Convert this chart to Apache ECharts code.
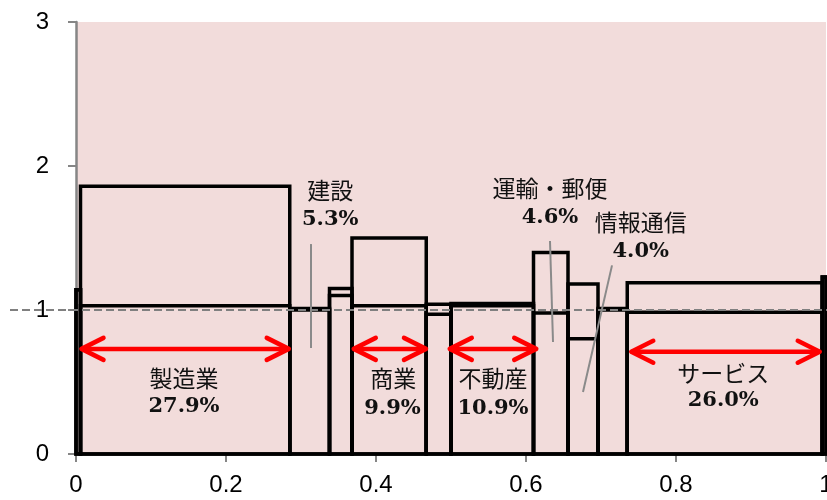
<!DOCTYPE html>
<html>
<head>
<meta charset="utf-8">
<script src="https://cdn.jsdelivr.net/npm/echarts@6/dist/echarts.min.js"></script>
<style>
html,body{margin:0;padding:0;background:#fff;}
#c{width:827px;height:500px;}
</style>
</head>
<body>
<div id="c"></div>
<script>
// ---- data ----
// sector widths (share of total, x axis 0..1)
const sectorShares = [0.006, 0.279, 0.053, 0.030, 0.099, 0.033, 0.110, 0.046, 0.040, 0.039, 0.260, 0.005];
// two height series per sector (outer / inner step)
const outerHeights = [1.14, 1.86, 1.01, 1.15, 1.50, 1.04, 1.045, 1.40, 1.18, 1.01, 1.19, 1.23];
const innerHeights = [1.14, 1.03, 1.00, 1.10, 1.03, 0.97, 1.03, 0.98, 0.80, 1.00, 0.985, 1.23];
// reference line
const refLevel = 1;
// annotation arrows: [from x, to x, y]
const arrowFrom = [0.006, 0.369, 0.497, 0.739];
const arrowTo   = [0.285, 0.468, 0.615, 0.993];
const arrowY    = [0.73, 0.73, 0.73, 0.71];
// labels
const labelNames = ['製造業', '商業', '不動産', 'サービス', '建設', '運輸・郵便', '情報通信'];
const labelPcts  = ['27.9%', '9.9%', '10.9%', '26.0%', '5.3%', '4.6%', '4.0%'];
const nameX = [0.144, 0.423, 0.556, 0.863, 0.339, 0.632, 0.753];
const nameY = [0.528, 0.528, 0.528, 0.563, 1.833, 1.847, 1.611];
const pctX  = [0.144, 0.422, 0.556, 0.863, 0.339, 0.632, 0.753];
const pctY  = [0.333, 0.319, 0.319, 0.368, 1.625, 1.639, 1.403];
// leader lines: [x1, y1, x2, y2]
const leaderLines = [
  [0.3133, 1.458, 0.3133, 0.736],
  [0.632, 1.479, 0.636, 0.778],
  [0.7147, 1.31, 0.676, 0.431]
];
const xTickLabels = ['0', '0.2', '0.4', '0.6', '0.8', '1'];
const yTickLabels = ['0', '1', '2', '3'];

// ---- build ----
const bounds = [0];
sectorShares.forEach(s => bounds.push(bounds[bounds.length - 1] + s));
const outerData = sectorShares.map((s, i) => [bounds[i], bounds[i + 1], outerHeights[i]]);
const innerData = sectorShares.map((s, i) => [bounds[i], bounds[i + 1], innerHeights[i]]);
const arrowData = arrowFrom.map((f, i) => [f, arrowTo[i], arrowY[i]]);

function rectItem(params, api) {
  const p0 = api.coord([api.value(0), api.value(2)]);
  const p1 = api.coord([api.value(1), 0]);
  return {
    type: 'rect',
    shape: { x: p0[0], y: p0[1], width: p1[0] - p0[0], height: p1[1] - p0[1] },
    style: { fill: 'none', stroke: '#000', lineWidth: 3.5 }
  };
}

const chart = echarts.init(document.getElementById('c'), null, { renderer: 'canvas' });
chart.setOption({
  animation: false,
  backgroundColor: '#fff',
  grid: { left: 76, right: 1, top: 22, bottom: 46, show: true, backgroundColor: '#f2dcdb', borderWidth: 0,
    containLabel: false, outerBoundsMode: 'none' },
  xAxis: {
    type: 'value', min: 0, max: 1, interval: 0.2,
    axisLine: { show: true, lineStyle: { color: '#868686', width: 2 } },
    axisTick: { show: true, length: 8, lineStyle: { color: '#868686', width: 2 } },
    axisLabel: { margin: 19, color: '#000', fontSize: 24, fontFamily: 'Liberation Sans',
      formatter: (v, i) => xTickLabels[i] },
    splitLine: { show: false }
  },
  yAxis: {
    type: 'value', min: 0, max: 3, interval: 1,
    axisLine: { show: true, lineStyle: { color: '#868686', width: 2.5 } },
    axisTick: { show: true, length: 8, lineStyle: { color: '#868686', width: 2 } },
    axisLabel: { margin: 27, color: '#000', fontSize: 24, fontFamily: 'Liberation Sans',
      formatter: (v, i) => yTickLabels[i] },
    splitLine: { show: false }
  },
  series: [
    { type: 'custom', name: 'outer', data: outerData, encode: { x: [0, 1], y: 2 }, renderItem: rectItem, clip: false, z: 2 },
    { type: 'custom', name: 'inner', data: innerData, encode: { x: [0, 1], y: 2 }, renderItem: rectItem, clip: false, z: 2 },
    {
      type: 'custom', name: 'ref', data: [[-0.088, refLevel, 1, refLevel]], clip: false, z: 3,
      encode: { x: [0, 2], y: [1, 3] },
      renderItem: (params, api) => {
        const a = api.coord([api.value(0), api.value(1)]);
        const b = api.coord([api.value(2), api.value(3)]);
        return { type: 'line', shape: { x1: a[0], y1: a[1], x2: b[0] + 2, y2: b[1] },
          style: { stroke: '#808080', lineWidth: 2.2, lineDash: [8, 4] } };
      }
    },
    {
      type: 'custom', name: 'leaders', data: leaderLines, clip: false, z: 4,
      encode: { x: [0, 2], y: [1, 3] },
      renderItem: (params, api) => {
        const a = api.coord([api.value(0), api.value(1)]);
        const b = api.coord([api.value(2), api.value(3)]);
        return { type: 'line', shape: { x1: a[0], y1: a[1], x2: b[0], y2: b[1] },
          style: { stroke: '#8a8a8a', lineWidth: 2 } };
      }
    },
    {
      type: 'custom', name: 'arrows', data: arrowData, clip: false, z: 5,
      encode: { x: [0, 1], y: 2 },
      renderItem: (params, api) => {
        const a = api.coord([api.value(0), api.value(2)]);
        const b = api.coord([api.value(1), api.value(2)]);
        const hl = 23, hh = 11;
        const st = { stroke: '#ff0000', lineWidth: 4.5, lineCap: 'round', lineJoin: 'round', fill: 'none' };
        return {
          type: 'group',
          children: [
            { type: 'line', shape: { x1: a[0] + 2, y1: a[1], x2: b[0] - 2, y2: b[1] }, style: st },
            { type: 'polyline', shape: { points: [[a[0] + hl, a[1] - hh], [a[0] + 1, a[1]], [a[0] + hl, a[1] + hh]] }, style: st },
            { type: 'polyline', shape: { points: [[b[0] - hl, b[1] - hh], [b[0] - 1, b[1]], [b[0] - hl, b[1] + hh]] }, style: st }
          ]
        };
      }
    },
    {
      type: 'custom', name: 'names', data: nameX.map((x, i) => [x, nameY[i]]), clip: false, z: 6,
      renderItem: (params, api) => {
        const p = api.coord([api.value(0), api.value(1)]);
        return { type: 'text', x: p[0], y: p[1],
          style: { text: labelNames[params.dataIndex], fill: '#111', font: '23px "Noto Sans CJK JP"',
            align: 'center', verticalAlign: 'middle', textAlign: 'center', textVerticalAlign: 'middle' } };
      }
    },
    {
      type: 'custom', name: 'pcts', data: pctX.map((x, i) => [x, pctY[i]]), clip: false, z: 6,
      renderItem: (params, api) => {
        const p = api.coord([api.value(0), api.value(1)]);
        return { type: 'text', x: p[0], y: p[1],
          style: { text: labelPcts[params.dataIndex], fill: '#111', font: 'bold 21px "DejaVu Serif"',
            align: 'center', verticalAlign: 'middle', textAlign: 'center', textVerticalAlign: 'middle' } };
      }
    }
  ]
});
</script>
</body>
</html>
